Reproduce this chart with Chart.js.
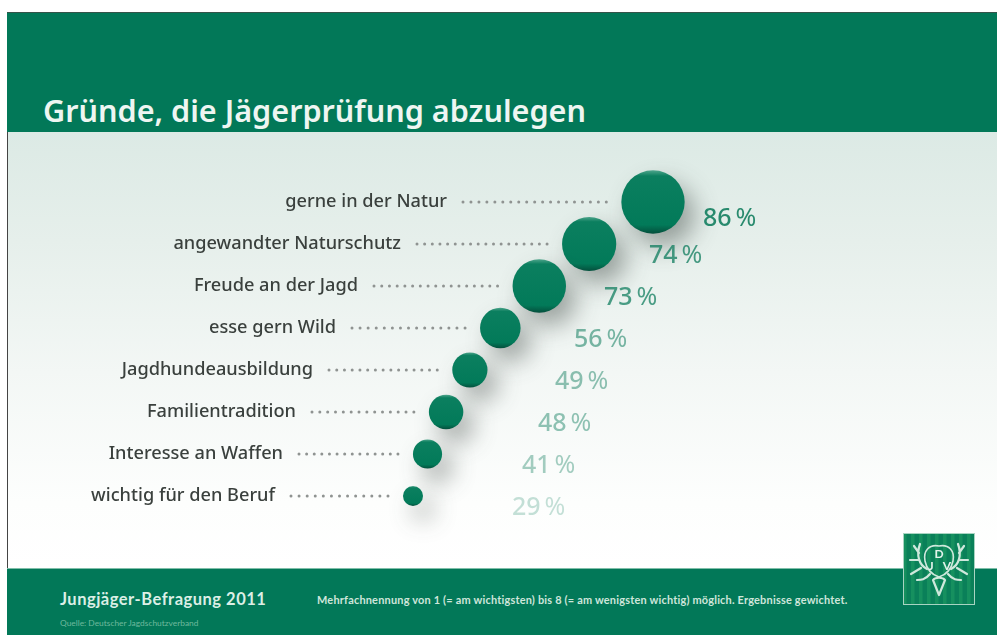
<!DOCTYPE html>
<html lang="de">
<head>
<meta charset="utf-8">
<title>Gründe, die Jägerprüfung abzulegen</title>
<script src="https://cdn.jsdelivr.net/npm/chart.js@4"></script>
<style>
  html, body { margin: 0; padding: 0; background: #fff; }
  body { position: relative; width: 997px; height: 635px; overflow: hidden; font-family: "Noto Sans", sans-serif; }
  .head { position: absolute; left: 7px; top: 12px; right: 0; height: 120px; background: #027858; border-top: 1px solid #35544a; box-sizing: border-box; }
  .head h1 { position: absolute; left: 36px; top: 77px; margin: 0; color: #eef6f2; font-size: 30.6px; font-weight: 600; line-height: 40px; white-space: nowrap; }
  .panel { position: absolute; left: 7px; top: 132px; right: 0; height: 436px; border-left: 1px solid #444; box-sizing: border-box;
           background: linear-gradient(#dceae5 0%, #e6efeb 25%, #f3f7f5 55%, #fdfefd 85%, #fff 100%); }
  .foot { position: absolute; left: 7px; top: 568px; right: 0; height: 67px; background: #027858; border-top: 1px solid #7fbfa9; box-sizing: border-box; }
  .foot div { position: absolute; white-space: nowrap; font-family: Lato, sans-serif; }
  .survey { left: 53px; top: 20px; color: #dcefe6; font-size: 16.5px; font-weight: 700; letter-spacing: .5px; }
  .note { left: 310px; top: 24px; color: #cfe6db; font-size: 10.95px; font-weight: 700; letter-spacing: .2px; }
  .source { left: 53px; top: 49px; color: #6fb89d; font-size: 8.4px; }
  canvas { position: absolute; left: 7px; top: 132px; }
  svg { position: absolute; left: 903px; top: 533px; }
</style>
</head>
<body>
<div class="head"><h1>Gründe, die Jägerprüfung abzulegen</h1></div>
<div class="panel"></div>
<div class="foot">
  <div class="survey">Jungjäger-Befragung 2011</div>
  <div class="note">Mehrfachnennung von 1 (= am wichtigsten) bis 8 (= am wenigsten wichtig) möglich. Ergebnisse gewichtet.</div>
  <div class="source">Quelle: Deutscher Jagdschutzverband</div>
</div>
<canvas id="chart" width="990" height="436"></canvas>
<svg width="72" height="72" viewBox="0 0 72 72">
  <defs>
    <pattern id="stripes" width="8" height="8" patternUnits="userSpaceOnUse">
      <rect width="8" height="8" fill="#0a8059"/>
      <rect width="3.5" height="8" fill="#16905f"/>
    </pattern>
  </defs>
  <rect x=".5" y=".5" width="71" height="71" fill="url(#stripes)" stroke="#a8d4c2"/>
  <g fill="none" stroke="#cfe8dc" stroke-width="2.2" stroke-linecap="round" stroke-linejoin="round">
    <path d="M24 36 C16 32 13 22 17 11 M16 20 L11 13 M15 27 L7 27 M18 35 L8 41 M27 41 C22 47 18 47 14 47"/>
    <path d="M48 36 C56 32 59 22 55 11 M56 20 L61 13 M57 27 L65 27 M54 35 L64 41 M45 41 C50 47 54 47 58 47"/>
    <path d="M36 13 C26 11 20 18 22 28 C24 38 30 42 36 44 C42 42 48 38 50 28 C52 18 46 11 36 13 Z" stroke-width="1.6"/>
    <path d="M30 47 L36 62 L42 47 C40 44 32 44 30 47 Z"/>
  </g>
  <g fill="#e4f3ec" font-family="Lato, sans-serif" font-weight="700" font-size="12" text-anchor="middle">
    <text x="36" y="25">D</text>
    <text x="28" y="37">J</text>
    <text x="44" y="37">V</text>
  </g>
</svg>
<script>
// Ergebnisse der Befragung, von oben nach unten
const categories = [
  'gerne in der Natur',
  'angewandter Naturschutz',
  'Freude an der Jagd',
  'esse gern Wild',
  'Jagdhundeausbildung',
  'Familientradition',
  'Interesse an Waffen',
  'wichtig für den Beruf'
]
const percents = [86, 74, 73, 56, 49, 48, 41, 29]

// where the row texts sit on the page (not data)
const labelEnds = [447, 401, 358, 336, 313, 296, 283, 275]
const percentStarts = [703, 649, 604, 574, 555, 538, 522, 512]
const canvasLeft = 7
const green = '#027a59'

// Horizontal axis that stretches towards the top rank, gives the rising bow of bubbles
class BowScale extends Chart.LinearScale {
  static id = 'bow'
  static defaults = Chart.LinearScale.defaults
  getPixelForValue(value) {
    const grow = 1.28
    const t = (Math.pow(grow, value) - Math.pow(grow, this.min)) /
      (Math.pow(grow, this.max) - Math.pow(grow, this.min))
    return this.left + t * (this.right - this.left)
  }
}
Chart.register(BowScale)

function bubbleRadius(value) {
  return 0.38 * value - 1
}

// light rim on top, darker rim below
function bubbleFill(context) {
  if (!context.parsed) return green
  const y = context.chart.scales.y.getPixelForValue(context.parsed.y)
  const r = context.parsed._custom
  if (!Number.isFinite(y) || !Number.isFinite(r)) return green
  const fill = context.chart.ctx.createLinearGradient(0, y - r, 0, y + r)
  fill.addColorStop(0, '#4fa58c')
  fill.addColorStop(0.09, '#0b7f5f')
  fill.addColorStop(0.86, green)
  fill.addColorStop(1, '#044f3c')
  return fill
}

// soft drop shadow under the bubbles
const bubbleShadow = {
  id: 'bubbleShadow',
  beforeDatasetDraw(chart) {
    const ctx = chart.ctx
    ctx.save()
    ctx.shadowColor = 'rgba(40, 50, 45, 0.42)'
    ctx.shadowBlur = 24
    ctx.shadowOffsetX = 10
    ctx.shadowOffsetY = 13
  },
  afterDatasetDraw(chart) {
    chart.ctx.restore()
  }
}

// category names, dotted leaders and percent figures next to each bubble
const rowTexts = {
  id: 'rowTexts',
  beforeDatasetsDraw(chart) {
    const ctx = chart.ctx
    const points = chart.getDatasetMeta(0).data
    ctx.save()
    categories.forEach((name, i) => {
      const y = points[i].y
      const end = labelEnds[i] - canvasLeft

      ctx.font = '500 18.2px "Noto Sans", sans-serif'
      ctx.fillStyle = '#3a403d'
      ctx.textAlign = 'right'
      ctx.textBaseline = 'middle'
      ctx.fillText(name, end, y)

      // leader runs from the label up to just before the bubble
      const from = end + 16
      const to = points[i].x - bubbleRadius(percents[i]) - 15
      const count = Math.round((to - from) / 7.8)
      ctx.fillStyle = '#8f9391'
      for (let d = 0; d <= count; d++) {
        ctx.beginPath()
        ctx.arc(from + (to - from) * d / count, y, 1.5, 0, Math.PI * 2)
        ctx.fill()
      }
    })
    ctx.restore()
  },
  afterDatasetsDraw(chart) {
    const ctx = chart.ctx
    const points = chart.getDatasetMeta(0).data
    ctx.save()
    percents.forEach((value, i) => {
      const x = percentStarts[i] - canvasLeft
      const y = points[i].y + (i === 0 ? 16.5 : 12)
      ctx.globalAlpha = (value - 8) / 90
      ctx.fillStyle = '#0a7a5a'
      ctx.textAlign = 'left'
      ctx.textBaseline = 'middle'
      ctx.font = '500 25px "Noto Sans", sans-serif'
      ctx.fillText(String(value), x, y)
      ctx.font = '400 25px "Noto Sans", sans-serif'
      ctx.fillText('%', x + 32.5, y)
    })
    ctx.restore()
  }
}

new Chart(document.getElementById('chart'), {
  type: 'bubble',
  data: {
    datasets: [
      {
        label: 'Gründe',
        data: percents.map((value, i) => ({
          x: percents.length - 1 - i,
          y: categories[i],
          r: bubbleRadius(value)
        })),
        backgroundColor: bubbleFill,
        borderWidth: 0,
        clip: false
      }
    ]
  },
  options: {
    responsive: false,
    animation: false,
    layout: { padding: { left: 406, right: 344, top: 49, bottom: 51 } },
    plugins: { legend: { display: false }, tooltip: { enabled: false } },
    scales: {
      x: { type: 'bow', min: 0, max: 7, display: false },
      y: { type: 'category', labels: categories, offset: true, display: false }
    }
  },
  plugins: [rowTexts, bubbleShadow]
})
</script>
</body>
</html>
